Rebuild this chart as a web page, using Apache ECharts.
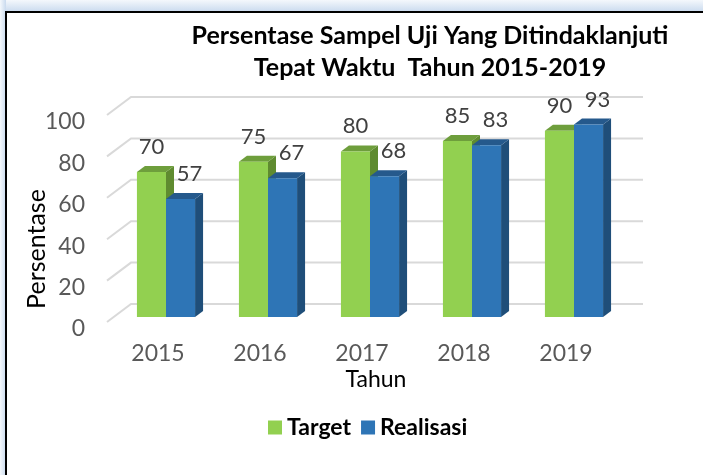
<!DOCTYPE html>
<html><head><meta charset="utf-8">
<script src="https://cdn.jsdelivr.net/npm/echarts@6/dist/echarts.min.js"></script>
<style>html,body{margin:0;padding:0;background:#fff}#c{width:703px;height:475px}</style>
</head><body><div id="c"></div>
<script>
var categories = ['2015', '2016', '2017', '2018', '2019'];
var target = [70, 75, 80, 85, 90];
var realisasi = [57, 67, 68, 83, 93];
var yTicks = [0, 20, 40, 60, 80, 100];

var FONT = 'Lato, Carlito, "Noto Sans", sans-serif';
var DX = 8, DY = -6;

function barRender(colors, side, labelShift) {
  return function (params, api) {
    var i = api.value(0), v = api.value(1);
    var p0 = api.coord([i, 0]);
    var p1 = api.coord([i, v]);
    var band = api.size([1, 0])[0];
    var bw = band * 0.285;
    var x = side === 0 ? p0[0] - bw : p0[0];
    var y1 = p1[1], y0 = p0[1];
    return {
      type: 'group',
      children: [
        { type: 'polygon', shape: { points: [[x + bw, y1], [x + bw + DX, y1 + DY], [x + bw + DX, y0 + DY], [x + bw, y0]] },
          style: { fill: colors.side } },
        { type: 'polygon', shape: { points: [[x, y1], [x + bw, y1], [x + bw + DX, y1 + DY], [x + DX, y1 + DY]] },
          style: { fill: colors.top } },
        { type: 'rect', shape: { x: x, y: y1, width: bw, height: y0 - y1 },
          style: { fill: colors.face } },
        { type: 'text', x: x + bw / 2 + labelShift, y: y1 - 25,
          style: { text: String(v), fill: '#404040', font: '22px ' + FONT, align: 'center', verticalAlign: 'middle' } }
      ]
    };
  };
}

function gridRender(params, api) {
  var t = api.value(1);
  var y = api.coord([0, t])[1];
  var cs = params.coordSys;
  var xl = cs.x - 8, xb = cs.x + 16, xr = cs.x + cs.width + 18;
  return {
    type: 'polyline',
    shape: { points: [[xl, y + 5], [xb, y - 13], [xr, y - 13]] },
    style: { stroke: '#D9D9D9', lineWidth: 2, fill: null }
  };
}

var chart = echarts.init(document.getElementById('c'), null, { renderer: 'canvas' });
chart.setOption({
  backgroundColor: '#fff',
  animation: false,
  graphic: [
    { type: 'rect', z: -10, shape: { x: 0, y: 0, width: 703, height: 12 },
      style: { fill: new echarts.graphic.LinearGradient(0, 0, 0, 1, [{ offset: 0, color: '#F4F8FC' }, { offset: 1, color: '#C9DAEE' }]) } },
    { type: 'rect', z: -10, shape: { x: 0, y: 0, width: 6, height: 475 },
      style: { fill: new echarts.graphic.LinearGradient(0, 0, 1, 0, [{ offset: 0, color: '#F4F8FC' }, { offset: 1, color: '#C9DAEE' }]) } },
    { type: 'rect', z: -9, shape: { x: 6, y: 12, width: 720, height: 490 },
      style: { fill: '#fff', stroke: '#000', lineWidth: 2 } },
    { type: 'text', x: 430, y: 20, z: 10,
      style: { text: 'Persentase Sampel Uji Yang Ditindaklanjuti\nTepat Waktu  Tahun 2015-2019',
        font: 'bold 25px ' + FONT, fill: '#000', align: 'center', verticalAlign: 'top', lineHeight: 32 } },
    { type: 'text', x: 376, y: 380, z: 10,
      style: { text: 'Tahun', font: '23px ' + FONT, fill: '#000', align: 'center', verticalAlign: 'middle' } },
    { type: 'text', x: 37, y: 249, rotation: Math.PI / 2, z: 10,
      style: { text: 'Persentase', font: '25px ' + FONT, fill: '#000', align: 'center', verticalAlign: 'middle' } }
  ],
  grid: { left: 115, width: 510, top: 110, height: 207 },
  legend: {
    data: ['Target', 'Realisasi'],
    left: 263, top: 411,
    icon: 'rect', itemWidth: 14, itemHeight: 14, itemGap: 10, itemTextGap: 5,
    textStyle: { fontFamily: FONT, fontSize: 23, fontWeight: 'bold', color: '#000' }
  },
  xAxis: {
    type: 'category', data: categories,
    axisLine: { show: false }, axisTick: { show: false }, splitLine: { show: false },
    axisLabel: { color: '#595959', fontFamily: FONT, fontSize: 23, margin: 25, padding: [0, 16, 0, 0] }
  },
  yAxis: {
    type: 'value', min: 0, max: 100, interval: 20,
    axisLine: { show: false }, axisTick: { show: false }, splitLine: { show: false },
    axisLabel: {
      margin: 30,
      formatter: '{a|{value}}',
      rich: { a: { color: '#595959', fontFamily: FONT, fontSize: 23, padding: [24, 0, 0, 0] } }
    }
  },
  series: [
    { type: 'custom', name: 'gridlines', z: 1, silent: true,
      data: yTicks.map(function (t) { return [0, t]; }), renderItem: gridRender },
    { type: 'custom', name: 'Target', z: 2, itemStyle: { color: '#92D050' },
      data: target.map(function (v, i) { return [i, v]; }),
      renderItem: barRender({ face: '#92D050', side: '#5F8B30', top: '#6E9E3C' }, 0, 0) },
    { type: 'custom', name: 'Realisasi', z: 3, itemStyle: { color: '#2E75B6' },
      data: realisasi.map(function (v, i) { return [i, v]; }),
      renderItem: barRender({ face: '#2E75B6', side: '#1F4E79', top: '#25598C' }, 1, 9) }
  ]
});
</script></body></html>
